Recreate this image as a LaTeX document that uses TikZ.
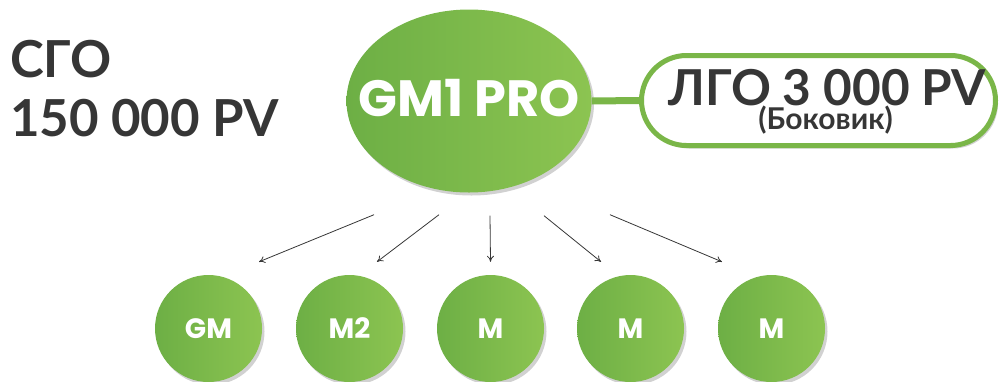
\documentclass[tikz,border=0pt]{standalone}
\usepackage{fontspec}
\setmainfont{Lato}
\newfontfamily\popfont{Poppins}
\usetikzlibrary{positioning}
\usetikzlibrary{shapes.geometric,shapes.misc}
\usetikzlibrary{shadows,arrows.meta}
\definecolor{gmdark}{HTML}{6DAF45}
\definecolor{gmlight}{HTML}{8CC451}
\definecolor{gmline}{HTML}{7AB648}
\definecolor{txtgray}{HTML}{363636}
\tikzset{
  softshadow/.style={drop shadow={shadow xshift=2.5pt, shadow yshift=-3pt, fill=black, opacity=.18}},
  greenfill/.style={draw=none, left color=gmdark, right color=gmlight, softshadow},
  bossball/.style={ellipse, greenfill, minimum width=245, minimum height=183, inner sep=0pt},
  bosstext/.style={inner sep=0pt, text=white, font=\popfont\bfseries\fontsize{51}{51}\selectfont},
  memberball/.style={circle, greenfill, minimum size=107, inner sep=0pt,
    text=white, font=\popfont\bfseries\fontsize{28}{28}\selectfont},
  sidepill/.style={rounded rectangle, draw=gmline, line width=5pt, fill=white, softshadow,
    minimum width=354, minimum height=90, inner sep=0pt},
  bigtxt/.style={text=txtgray, inner sep=0pt, font=\bfseries\fontsize{51}{51}\selectfont},
  link/.style={draw=gmline, line width=7pt},
  tip/.style={draw=txtgray, line width=0.8pt, -{To[length=6pt,width=7pt]}}
}
\newcommand{\member}[3]{\node[memberball] (#1) at (#2,328.5) {#3};}

\begin{document}
\begin{tikzpicture}[x=1pt,y=-1pt]
        \useasboundingbox (0,0) rectangle (1001,381);

        % left text
        \node[bigtxt, anchor=base west] (cgo) at (10,77) {СГО};
        \node[bigtxt, anchor=base west] (cgoval) at (10,136) {150 000 PV};

        % top
        \node[bossball, label={[bosstext, yshift=3pt]center:GM1 PRO}] (gm1) at (469,101) {};
        \node[sidepill] (side) at (818.5,100.5) {};
        \node[bigtxt, anchor=base, font=\bfseries\fontsize{49.5}{49.5}\selectfont] (lgo) at (827.5,105) {ЛГО 3 000 PV};
        \node[bigtxt, anchor=base, font=\bfseries\fontsize{30}{30}\selectfont] (lgonote) at (825.5,129) {(Боковик)};
        \draw[link] (gm1.east) -- (side.west);

        % row of members
        \member{m1}{208.5}{GM}
        \member{m2}{349.5}{M2}
        \member{m3}{490.5}{M}
        \member{m4}{630.5}{M}
        \member{m5}{771.5}{M}

        % arrows
        \draw[tip] ([shift={(-95,22)}]gm1.south) -- ([shift={(50.5,-13)}]m1.north);
        \draw[tip] ([shift={(-30,22)}]gm1.south) -- ([shift={(27.5,-13)}]m2.north);
        \draw[tip] ([shift={(21,23)}]gm1.south) -- ([shift={(0,-13)}]m3.north);
        \draw[tip] ([shift={(75,23)}]gm1.south) -- ([shift={(-29.5,-13)}]m4.north);
        \draw[tip] ([shift={(141,22)}]gm1.south) -- ([shift={(-49.5,-13)}]m5.north);

\end{tikzpicture}
\end{document}
